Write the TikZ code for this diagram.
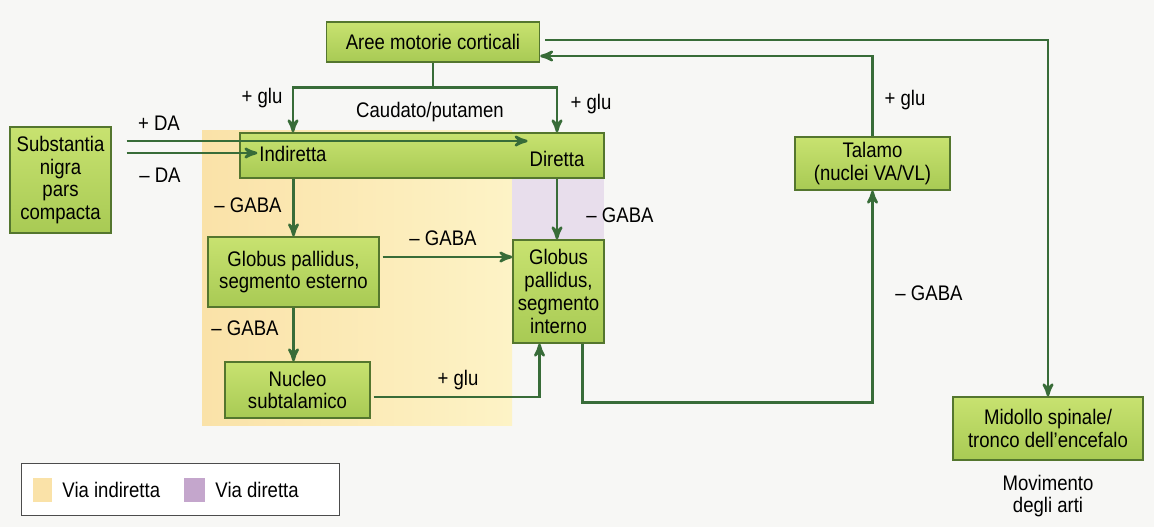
\documentclass[tikz,border=0pt]{standalone}
\usepackage{fontspec}
\setmainfont{Liberation Sans}[FakeStretch=0.88]
\usetikzlibrary{calc}
\usetikzlibrary{arrows}
\usetikzlibrary{positioning}

\definecolor{paper}{RGB}{247,247,245}
\definecolor{boxtop}{RGB}{200,226,112}
\definecolor{boxbot}{RGB}{168,202,84}
\definecolor{boxedge}{RGB}{84,118,46}
\definecolor{arrowgreen}{RGB}{56,108,56}
\definecolor{indyellowA}{RGB}{250,226,168}
\definecolor{indyellowB}{RGB}{253,243,198}
\definecolor{dirpurple}{RGB}{232,222,236}
\definecolor{legpurple}{RGB}{196,166,204}

\tikzset{
 area/.style={draw=boxedge, thick, top color=boxtop, bottom color=boxbot, align=center, inner sep=1pt, font=\fontsize{12}{13}\selectfont},
 lbl/.style={inner sep=1pt, font=\fontsize{12}{13}\selectfont},
 link/.style={arrowgreen, line width=1.5pt, ->, >=stealth'},
 wire/.style={arrowgreen, line width=1.5pt}
}

\begin{document}
\begin{tikzpicture}[x=0.2mm,y=-0.2mm]
\useasboundingbox[fill=paper] (0,0) rectangle (1154,527);
\shade[left color=indyellowA, right color=indyellowB] (202,130) rectangle (512,425);
\fill[dirpurple] (512,170) rectangle (604,245);

\node[area, minimum width=42.6mm, minimum height=8mm] (cortex) at (433,42) {Aree motorie corticali};
\node[area, minimum width=72.8mm, minimum height=9mm] (striatum) at (422,155.5) {};
\node[lbl] (ind) at (293,154) {Indiretta};
\node[lbl] (dir) at (557,159) {Diretta};
\node[lbl] (caud) at (430,112) {Caudato/putamen};
\node[area, minimum width=20.2mm, minimum height=21.2mm] (nigra) at (60.5,180) {Substantia\\nigra\\pars\\compacta};
\node[area, minimum width=34.2mm, minimum height=14mm] (gpe) at (293.5,272) {Globus pallidus,\\segmento esterno};
\node[area, minimum width=29mm, minimum height=11.2mm] (stn) at (297.5,390) {Nucleo\\subtalamico};
\node[area, minimum width=18.2mm, minimum height=20.6mm] (gpi) at (558.5,291.5) {Globus\\pallidus,\\segmento\\interno};
\node[area, minimum width=31mm, minimum height=10.6mm] (thal) at (872.5,163.5) {Talamo\\(nuclei VA/VL)};
\node[area, minimum width=38mm, minimum height=12.6mm] (cord) at (1048,428.5) {Midollo spinale/\\tronco dell’encefalo};
\node[lbl, align=center] (limb) at (1048,496) {Movimento\\degli arti};

\coordinate (split) at ($(cortex.south)+(0,25)$);
\draw[wire] (cortex.south) -- (split);
\draw[link] (split) -| (striatum.north -| ind);
\draw[link] (split) -| (striatum.north -| dir);
\draw[link] ($(nigra.east)+(15,-39)$) coordinate (da1) -- (da1 -| dir.west);
\draw[link] ($(nigra.east)+(15,-27)$) coordinate (da2) -- (da2 -| ind.west);
\draw[link] (striatum.south -| gpe) -- (gpe.north);
\draw[link] (gpe.south) -- (gpe.south |- stn.north);
\draw[link] (striatum.south -| dir) -- (dir |- gpi.north);
\draw[link] ($(gpe.east)+(3,-15)$) coordinate (g1) -- (g1 -| gpi.west);
\draw[link] ($(stn.east)+(3,7)$) -| ($(gpi.south)+(-19,0)$);
\draw[link] ($(gpi.south)+(24,0)$) -- ++(0,59) -| (thal.south);
\draw[link] (thal.north) |- ($(cortex.east)+(0,14)$);
\draw[link] ($(cortex.east)+(5,-2)$) -| (cord.north);

\node[lbl] (gluA) at (262,98) {+ glu};
\node[lbl] (gluB) at (591,104) {+ glu};
\node[lbl] (daA) at (159,123) {+ DA};
\node[lbl] (daB) at (160,175) {– DA};
\node[lbl] (gabaA) at (248,205) {– GABA};
\node[lbl] (gabaB) at (245,328) {– GABA};
\node[lbl] (gabaC) at (443,238) {– GABA};
\node[lbl] (gabaD) at (620,215) {– GABA};
\node[lbl] (gabaE) at (929,293) {– GABA};
\node[lbl] (gluC) at (458,380) {+ glu};
\node[lbl] (gluD) at (905,100) {+ glu};

\node[draw=black!70, fill=white, minimum width=63.6mm, minimum height=10.4mm] (legend) at (180,489) {};
\node[fill=indyellowA, minimum width=3.8mm, minimum height=4.8mm, inner sep=0] (keyind) at (42.5,490) {};
\node[lbl, right=1.6mm of keyind] (txtind) {Via indiretta};
\node[fill=legpurple, minimum width=4.2mm, minimum height=4.8mm, inner sep=0] (keydir) at (194.5,490) {};
\node[lbl, right=1.6mm of keydir] (txtdir) {Via diretta};
\end{tikzpicture}
\end{document}
